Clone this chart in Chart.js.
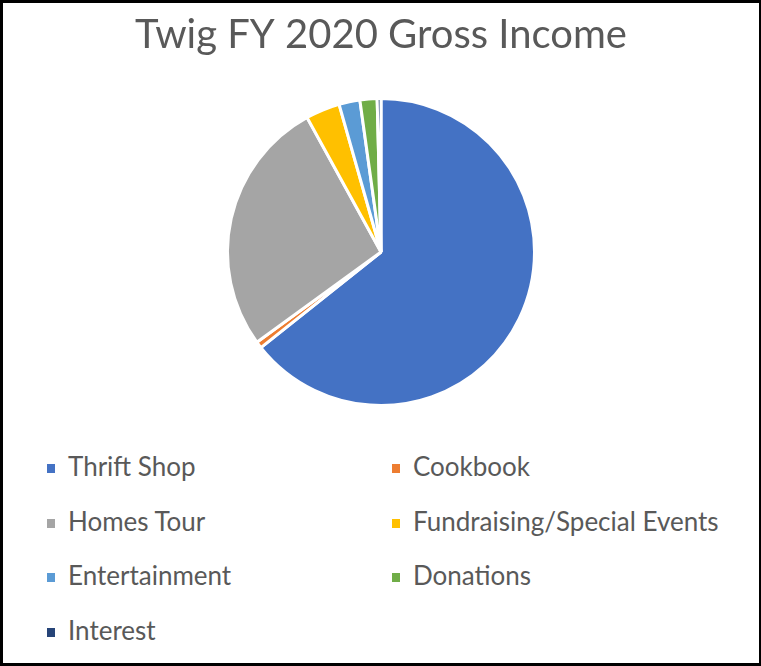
<!DOCTYPE html>
<html>
<head>
<meta charset="utf-8">
<script src="https://cdn.jsdelivr.net/npm/chart.js@4.4.0/dist/chart.umd.min.js"></script>
<style>
  body { margin: 0; background: #fff; }
  #frame {
    position: relative; width: 761px; height: 666px;
    box-sizing: border-box; border: 3px solid #000; border-right-width: 2px; background: #fff;
    font-family: Lato, "Open Sans", sans-serif; color: #595959;
  }
  #chartBox { position: absolute; left: 0; top: 0; width: 756px; height: 414px; }
  .item { position: absolute; font-size: 26px; line-height: 30px; white-space: nowrap; }
  .item span { display: inline-block; width: 8px; height: 9px; margin-right: 13px; vertical-align: 3px; }
</style>
</head>
<body>
<div id="frame">
  <div id="chartBox"><canvas id="myChart"></canvas></div>
  <div id="legend"></div>
</div>
<script>
var labels = ['Thrift Shop', 'Cookbook', 'Homes Tour', 'Fundraising/Special Events', 'Entertainment', 'Donations', 'Interest'];
var values = [64.3, 0.7, 27.0, 3.6, 2.2, 1.8, 0.4];
var colors = ['#4472C4', '#ED7D31', '#A5A5A5', '#FFC000', '#5B9BD5', '#70AD47', '#264478'];

var ctx = document.getElementById('myChart').getContext('2d');
var myChart = new Chart(ctx, {
    type: 'pie',
    data: {
        labels: labels,
        datasets: [{
            data: values,
            backgroundColor: colors,
            borderColor: '#ffffff',
            borderWidth: 3
        }]
    },
    options: {
        responsive: true,
        maintainAspectRatio: false,
        animation: false,
        layout: {
            padding: { top: 8, bottom: 10 }
        },
        plugins: {
            legend: { display: false },
            tooltip: { enabled: false },
            title: {
                display: true,
                text: 'Twig FY 2020 Gross Income',
                color: '#595959',
                font: { family: 'Lato', size: 40, weight: 'normal' },
                padding: { top: 0, bottom: 38 }
            }
        }
    }
});

// legend in two columns, built from the chart data
var legend = document.getElementById('legend');
labels.forEach(function (label, i) {
    var div = document.createElement('div');
    div.className = 'item';
    div.style.left = (i % 2 === 0 ? 44 : 389) + 'px';
    div.style.top = (448 + Math.floor(i / 2) * 54.5) + 'px';
    div.innerHTML = '<span style="background:' + colors[i] + '"></span>' + label;
    legend.appendChild(div);
});
</script>
</body>
</html>
